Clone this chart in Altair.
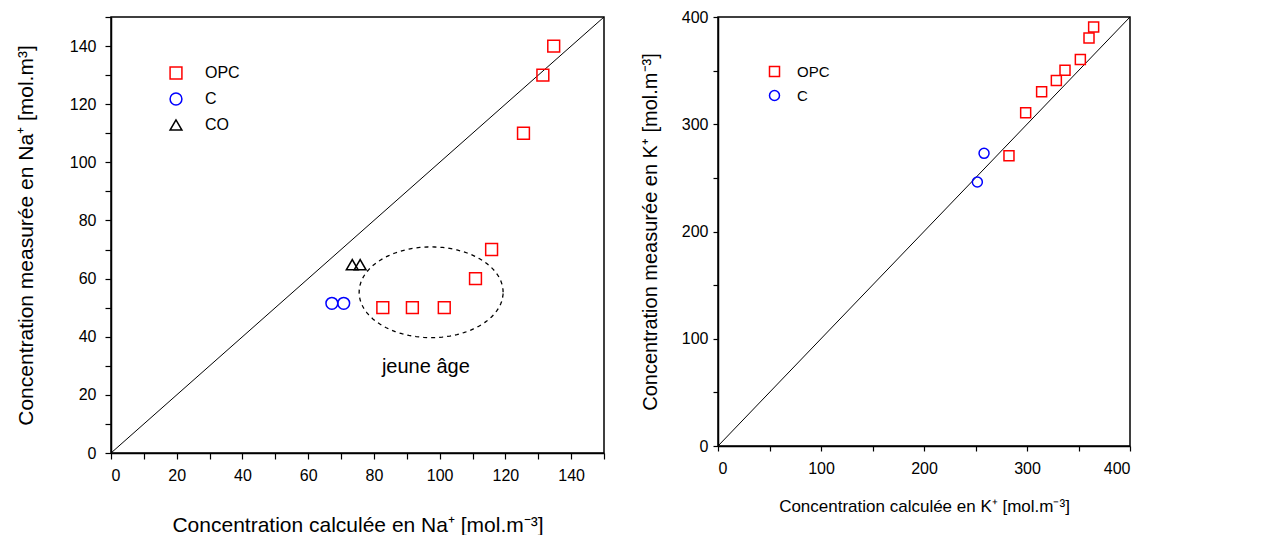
import altair as alt
import pandas as pd
import numpy as np

FONT = "Liberation Sans"

# ---------------- Left panel : Na+ ----------------
na_series = ["OPC", "OPC", "OPC", "OPC", "OPC", "OPC", "OPC", "OPC", "C", "C", "CO", "CO"]
na_calc = [134.7, 131.4, 125.5, 115.8, 110.9, 101.4, 91.7, 82.7, 67.2, 70.8, 73.4, 75.8]
na_meas = [140, 130, 110, 70, 60, 50, 50, 50, 51.5, 51.5, 64.8, 64.8]
na_diag = [0, 150]
na_ticks = list(range(0, 151, 10))

# "jeune âge" annotation (ellipse centre / radii in data units) and label
ell_cx, ell_cy, ell_rx, ell_ry = 97.4, 55.3, 21.9, 15.6
note_text = ["jeune âge"]
note_x = [95.8]
note_y = [29.5]

# ---------------- Right panel : K+ ----------------
k_series = ["OPC", "OPC", "OPC", "OPC", "OPC", "OPC", "OPC", "OPC", "C", "C"]
k_calc = [282.5, 298.7, 314.2, 328.5, 336.9, 351.8, 360.2, 364.7, 258.3, 251.8]
k_meas = [270.7, 310.7, 330.2, 340.8, 350.4, 360.3, 380.5, 390.7, 272.9, 246.2]
k_diag = [0, 400]
k_ticks = list(range(0, 401, 50))

series_order = ["OPC", "C", "CO"]
series_colors = ["#ff0000", "#0000ff", "#000000"]
series_shapes = ["square", "circle", "triangle-up"]
series_sizes = [140, 140, 200]


def make_xy(dom, ticks, step, xtitle, ytitle, xa, ya):
    expr = f"datum.value % {step} === 0 ? datum.label : ''"
    sc = alt.Scale(domain=dom, nice=False, zero=False)
    xax = alt.Axis(values=ticks, labelExpr=expr, title=xtitle, grid=False,
                   labelOverlap=False, **xa)
    yax = alt.Axis(values=ticks, labelExpr=expr, title=ytitle, grid=False,
                   labelOverlap=False, **ya)
    return (lambda f: alt.X(f, type="quantitative", scale=sc, axis=xax),
            lambda f: alt.Y(f, type="quantitative", scale=sc, axis=yax))


# ----- left chart -----
LX, LY = make_xy([0, 150], na_ticks, 20,
                 "Concentration calculée en Na⁺ [mol.m⁻³]",
                 "Concentration measurée en Na⁺ [mol.m³]",
                 dict(tickSize=6, labelPadding=8, titlePadding=31, labelFontSize=16, titleFontSize=21),
                 dict(tickSize=6, labelPadding=9, titlePadding=33, labelFontSize=16, titleFontSize=21))

na_df = pd.DataFrame({"calc": na_calc, "meas": na_meas, "serie": na_series})
na_diag_df = pd.DataFrame({"v": na_diag})
theta = np.linspace(0, 2 * np.pi, 121)
ell_df = pd.DataFrame({"ex": ell_cx + ell_rx * np.cos(theta),
                       "ey": ell_cy + ell_ry * np.sin(theta),
                       "o": np.arange(len(theta))})
note_df = pd.DataFrame({"nx": note_x, "ny": note_y, "t": note_text})

left_diag = alt.Chart(na_diag_df).mark_line(color="black", strokeWidth=1).encode(
    x=LX("v"), y=LY("v"))
left_ell = alt.Chart(ell_df).mark_line(color="black", strokeWidth=1.3, strokeDash=[4, 4]).encode(
    x=LX("ex"), y=LY("ey"), order="o:Q")
left_note = alt.Chart(note_df).mark_text(font=FONT, fontSize=20, color="black").encode(
    x=LX("nx"), y=LY("ny"), text="t:N")
left_pts = alt.Chart(na_df).mark_point(filled=False, strokeWidth=1.5, opacity=1).encode(
    x=LX("calc"), y=LY("meas"),
    color=alt.Color("serie:N", scale=alt.Scale(domain=series_order, range=series_colors),
                    legend=alt.Legend(title=None, orient="none", legendX=57, legendY=48,
                                      labelFontSize=16, labelOffset=21, rowPadding=8,
                                      symbolSize=130, symbolStrokeWidth=1.5)),
    shape=alt.Shape("serie:N", scale=alt.Scale(domain=series_order, range=series_shapes)),
    size=alt.Size("serie:N", scale=alt.Scale(domain=series_order, range=series_sizes), legend=None),
)

left = alt.layer(left_diag, left_ell, left_note, left_pts).properties(width=493, height=436)

# ----- right chart -----
RX, RY = make_xy([0, 400], k_ticks, 100,
                 "Concentration calculée en K⁺ [mol.m⁻³]",
                 "Concentration measurée en K⁺ [mol.m⁻³]",
                 dict(tickSize=5, labelPadding=9, titlePadding=22, labelFontSize=16, titleFontSize=17),
                 dict(tickSize=5, labelPadding=5, titlePadding=21, labelFontSize=16, titleFontSize=20))

k_df = pd.DataFrame({"calc": k_calc, "meas": k_meas, "serie": k_series})
k_diag_df = pd.DataFrame({"v": k_diag})

right_diag = alt.Chart(k_diag_df).mark_line(color="black", strokeWidth=1).encode(
    x=RX("v"), y=RY("v"))
right_pts = alt.Chart(k_df).mark_point(filled=False, strokeWidth=1.5, size=100, opacity=1).encode(
    x=RX("calc"), y=RY("meas"),
    color=alt.Color("serie:N", scale=alt.Scale(domain=series_order[:2], range=series_colors[:2]),
                    legend=alt.Legend(title=None, orient="none", legendX=49, legendY=47,
                                      labelFontSize=15, labelOffset=15, rowPadding=7,
                                      symbolSize=100, symbolStrokeWidth=1.5)),
    shape=alt.Shape("serie:N", scale=alt.Scale(domain=series_order[:2], range=series_shapes[:2])),
)

right = alt.layer(right_diag, right_pts).properties(width=412, height=429)

chart = alt.hconcat(left, right, spacing=32).resolve_scale(
    color="independent", shape="independent", size="independent"
).resolve_legend(color="independent", shape="independent").properties(
    padding={"left": 6, "top": 0, "right": 5, "bottom": 0}
).configure_view(
    stroke="black", strokeWidth=1.5
).configure_axis(
    domainColor="black", domainWidth=1.5, tickColor="black", tickWidth=1.2,
    labelColor="black", titleColor="black", labelFont=FONT, titleFont=FONT,
    titleFontWeight="normal"
).configure_legend(
    labelFont=FONT, labelColor="black"
)

chart.save("out.html", embed_options={"renderer": "svg", "actions": False})
